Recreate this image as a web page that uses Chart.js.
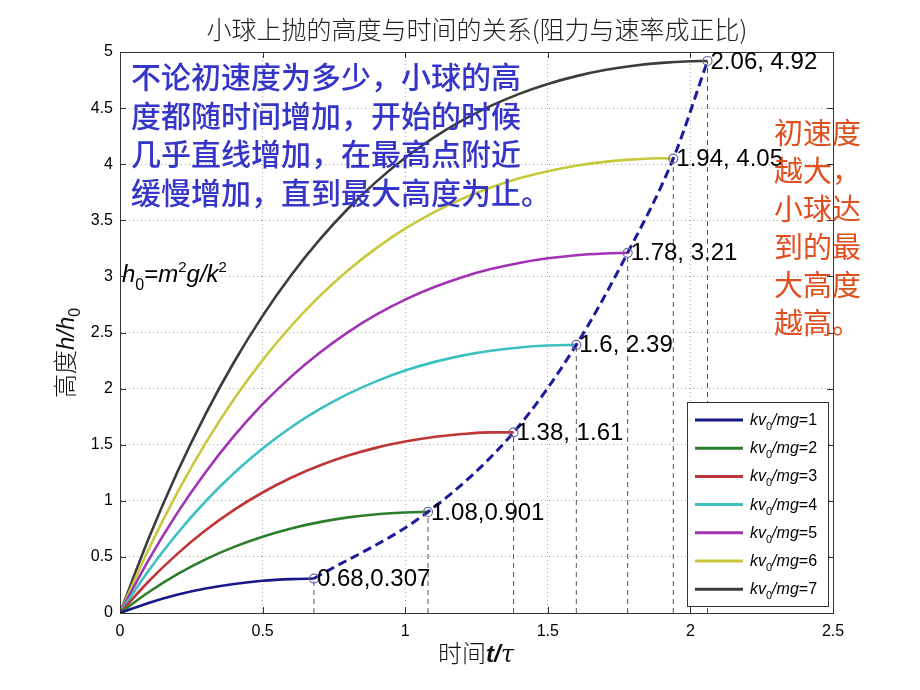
<!DOCTYPE html>
<html>
<head>
<meta charset="utf-8">
<title>小球上抛的高度与时间的关系</title>
<script src="https://cdn.jsdelivr.net/npm/chart.js@4.4.0/dist/chart.umd.min.js"></script>
<style>
  html, body { margin: 0; padding: 0; background: #fff; }
  #wrap { width: 920px; height: 690px; position: relative; }
</style>
</head>
<body>
<div id="wrap"><canvas id="heightChart"></canvas></div>
<script>
// 时间 t/τ 采样点
const times = [0, 0.1, 0.2, 0.3, 0.4, 0.5, 0.6, 0.7, 0.8, 0.9, 1.0,
               1.1, 1.2, 1.3, 1.4, 1.5, 1.6, 1.7, 1.8, 1.9, 2.0];

// 各初速度下的高度 h/h0
const h1 = [0, 0.090, 0.163, 0.218, 0.259, 0.287, 0.302];
const h2 = [0, 0.185, 0.344, 0.478, 0.589, 0.680, 0.754, 0.810, 0.852, 0.880, 0.896];
const h3 = [0, 0.281, 0.525, 0.737, 0.919, 1.074, 1.205, 1.314, 1.403, 1.474, 1.528,
            1.569, 1.595, 1.610];
const h4 = [0, 0.376, 0.706, 0.996, 1.248, 1.467, 1.656, 1.817, 1.953, 2.067, 2.161,
            2.236, 2.294, 2.337, 2.367, 2.384];
const h5 = [0, 0.471, 0.888, 1.255, 1.578, 1.861, 2.107, 2.320, 2.504, 2.661, 2.793,
            2.903, 2.993, 3.065, 3.120, 3.161, 3.189, 3.204];
const h6 = [0, 0.566, 1.069, 1.514, 1.908, 2.254, 2.558, 2.824, 3.055, 3.254, 3.425,
            3.570, 3.692, 3.792, 3.874, 3.938, 3.987, 4.021, 4.043, 4.053];
const h7 = [0, 0.661, 1.250, 1.773, 2.237, 2.648, 3.010, 3.327, 3.605, 3.847, 4.057,
            4.237, 4.390, 4.520, 4.627, 4.715, 4.785, 4.839, 4.878, 4.903, 4.917];
const heights = [h1, h2, h3, h4, h5, h6, h7];

// 最高点
const peakT = [0.68, 1.08, 1.38, 1.6, 1.78, 1.94, 2.06];
const peakH = [0.307, 0.901, 1.61, 2.39, 3.21, 4.05, 4.92];
const peakLabels = ['0.68,0.307', '1.08,0.901', '1.38, 1.61', '1.6, 2.39',
                    '1.78, 3.21', '1.94, 4.05', '2.06, 4.92'];

const speedRatios = [1, 2, 3, 4, 5, 6, 7];
const colors = ['#17178a', '#2c7d2c', '#c03636', '#3cc0c0', '#a232b4', '#c8c83c', '#3c3c3c'];

const xTicks = [0, 0.5, 1, 1.5, 2, 2.5];
const yTicks = [0, 0.5, 1, 1.5, 2, 2.5, 3, 3.5, 4, 4.5, 5];

const blueText = ['不论初速度为多少，小球的高', '度都随时间增加，开始的时候',
                  '几乎直线增加，在最高点附近', '缓慢增加，直到最大高度为止。'];
const redText = ['初速度', '越大，', '小球达', '到的最', '大高度', '越高。'];

const CJK = '"Noto Sans CJK SC"';
const SANS = '"Liberation Sans", Arial';

// 数据集
const datasets = [];

// 最高点到横轴的竖直虚线
peakT.forEach((t, i) => {
    datasets.push({
        data: [{ x: t, y: 0 }, { x: t, y: peakH[i] }],
        borderColor: '#555',
        borderWidth: 1,
        borderDash: [5, 4],
        pointRadius: 0,
        order: 3
    });
});

// 高度曲线
heights.forEach((hs, i) => {
    const pts = hs.map((h, j) => ({ x: times[j], y: h }));
    pts.push({ x: peakT[i], y: peakH[i] });
    datasets.push({
        data: pts,
        borderColor: colors[i],
        borderWidth: 2.6,
        pointRadius: 0,
        cubicInterpolationMode: 'monotone',
        order: 2
    });
});

// 最高点连线
datasets.push({
    data: peakT.map((t, i) => ({ x: t, y: peakH[i] })),
    borderColor: '#1c1c9a',
    borderWidth: 3,
    borderDash: [9, 5],
    cubicInterpolationMode: 'monotone',
    pointRadius: 4.5,
    pointBorderWidth: 1.2,
    pointBorderColor: '#6a6aa0',
    pointBackgroundColor: 'rgba(255,255,255,0)',
    order: 1
});

function drawRuns(ctx, runs, x, y) {
    // runs: [text, font, dy]
    runs.forEach(r => {
        ctx.font = r[1];
        ctx.fillText(r[0], x, y + (r[2] || 0));
        x += ctx.measureText(r[0]).width;
    });
    return x;
}

const decorations = {
    id: 'decorations',
    afterDraw(chart) {
        const { ctx, chartArea: a, scales: { x, y } } = chart;
        ctx.save();

        // 外框与向内刻度
        ctx.strokeStyle = '#333';
        ctx.lineWidth = 1;
        ctx.setLineDash([]);
        ctx.strokeRect(a.left + 0.5, a.top + 0.5, a.right - a.left, a.bottom - a.top);
        ctx.beginPath();
        xTicks.forEach(v => {
            const px = Math.round(x.getPixelForValue(v)) + 0.5;
            ctx.moveTo(px, a.bottom); ctx.lineTo(px, a.bottom - 6);
            ctx.moveTo(px, a.top); ctx.lineTo(px, a.top + 6);
        });
        yTicks.forEach(v => {
            const py = Math.round(y.getPixelForValue(v)) + 0.5;
            ctx.moveTo(a.left, py); ctx.lineTo(a.left + 6, py);
            ctx.moveTo(a.right, py); ctx.lineTo(a.right - 6, py);
        });
        ctx.stroke();

        // 标题
        ctx.fillStyle = '#222';
        ctx.textAlign = 'center';
        ctx.textBaseline = 'middle';
        ctx.font = '300 25px ' + CJK;
        ctx.fillText('小球上抛的高度与时间的关系(阻力与速率成正比)', 477, 29);

        // 横轴标题
        ctx.textAlign = 'left';
        ctx.textBaseline = 'alphabetic';
        ctx.fillStyle = '#111';
        drawRuns(ctx, [
            ['时间', '300 24px ' + CJK],
            ['t/', 'italic bold 24px ' + SANS],
            ['τ', 'italic 24px "DejaVu Serif"']
        ], 438, 662);

        // 纵轴标题
        ctx.save();
        ctx.translate(74, 398);
        ctx.rotate(-Math.PI / 2);
        drawRuns(ctx, [
            ['高度', '300 24px ' + CJK],
            ['h/h', 'italic 24px ' + SANS],
            ['0', '16px ' + SANS, 6]
        ], 0, 0);
        ctx.restore();

        // h0 公式
        ctx.fillStyle = '#000';
        drawRuns(ctx, [
            ['h', 'italic 24px ' + SANS],
            ['0', '16px ' + SANS, 8],
            ['=', '24px ' + SANS],
            ['m', 'italic 24px ' + SANS],
            ['2', '15px ' + SANS, -10],
            ['g/k', 'italic 24px ' + SANS],
            ['2', '15px ' + SANS, -10]
        ], 122, 282);

        // 最高点标注
        ctx.textBaseline = 'middle';
        ctx.font = '24px ' + SANS;
        peakLabels.forEach((s, i) => {
            ctx.fillText(s, x.getPixelForValue(peakT[i]) + 3, y.getPixelForValue(peakH[i]) + 1);
        });

        // 蓝色说明文字
        ctx.fillStyle = '#3535c8';
        ctx.font = '500 30px ' + CJK;
        blueText.forEach((s, i) => ctx.fillText(s, 131, 77 + i * 38.5));

        // 橙色说明文字
        ctx.fillStyle = '#e0501e';
        ctx.font = '29px ' + CJK;
        redText.forEach((s, i) => ctx.fillText(s, 774, 133 + i * 38));

        // 图例
        const lx = 687, ly = 402, lw = 141, lh = 204;
        ctx.fillStyle = '#fff';
        ctx.fillRect(lx, ly, lw, lh);
        ctx.strokeStyle = '#333';
        ctx.lineWidth = 1;
        ctx.strokeRect(lx + 0.5, ly + 0.5, lw, lh);
        speedRatios.forEach((n, i) => {
            const ry = ly + 18 + i * 28.2;
            ctx.strokeStyle = colors[i];
            ctx.lineWidth = 3;
            ctx.beginPath();
            ctx.moveTo(lx + 8, ry); ctx.lineTo(lx + 56, ry);
            ctx.stroke();
            ctx.fillStyle = '#000';
            ctx.textBaseline = 'alphabetic';
            drawRuns(ctx, [
                ['kv', 'italic 16px ' + SANS],
                ['0', '11px ' + SANS, 5],
                ['/', 'italic 16px ' + SANS],
                ['mg', 'italic 16px ' + SANS],
                ['=' + n, '16px ' + SANS]
            ], lx + 63, ry + 5);
        });

        ctx.restore();
    }
};

new Chart(document.getElementById('heightChart').getContext('2d'), {
    type: 'line',
    data: { datasets: datasets },
    options: {
        responsive: true,
        maintainAspectRatio: false,
        animation: false,
        layout: { padding: { left: 0, right: 87, top: 52, bottom: 0 } },
        plugins: {
            legend: { display: false },
            title: { display: false },
            tooltip: { enabled: false }
        },
        scales: {
            x: {
                type: 'linear',
                min: 0,
                max: 2.5,
                afterFit: s => { s.height = 77; },
                afterBuildTicks: s => { s.ticks = xTicks.map(v => ({ value: v })); },
                ticks: { color: '#000', font: { family: SANS, size: 16 }, padding: 9, maxRotation: 0,
                         callback: v => String(v) },
                grid: { color: '#a8a8a8', drawTicks: false, lineWidth: 1 },
                border: { display: true, color: '#333', dash: [1, 3] }
            },
            y: {
                type: 'linear',
                min: 0,
                max: 5,
                afterFit: s => { s.width = 120; },
                afterBuildTicks: s => { s.ticks = yTicks.map(v => ({ value: v })); },
                ticks: { color: '#000', font: { family: SANS, size: 16 }, padding: 7,
                         callback: v => String(v) },
                grid: { color: '#a8a8a8', drawTicks: false, lineWidth: 1 },
                border: { display: true, color: '#333', dash: [1, 3] }
            }
        }
    },
    plugins: [decorations]
});
</script>
</body>
</html>
